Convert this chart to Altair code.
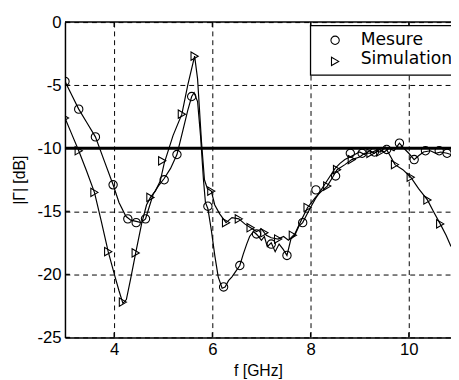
import altair as alt
import pandas as pd

series_names = ["Mesure", "Simulation"]

# Measured curve (line)
mes_f = [3.00, 3.14, 3.28, 3.45, 3.62, 3.80, 3.98, 4.10, 4.24, 4.34, 4.45, 4.55, 4.64, 4.72,
         4.80, 4.90, 5.02, 5.15, 5.28, 5.40, 5.50, 5.58, 5.63, 5.70, 5.76, 5.82, 5.86, 5.91,
         5.98, 6.05, 6.12, 6.20, 6.26, 6.33, 6.40, 6.47, 6.56, 6.63, 6.70, 6.76, 6.84, 6.92,
         7.00, 7.06, 7.12, 7.20, 7.28, 7.36, 7.44, 7.52, 7.60, 7.68, 7.76, 7.84, 7.92, 8.00,
         8.10, 8.20, 8.30, 8.40, 8.50, 8.60, 8.70, 8.80, 8.90, 9.00, 9.10, 9.20, 9.30, 9.40,
         9.50, 9.60, 9.70, 9.81, 9.90, 10.00, 10.11, 10.20, 10.30, 10.44, 10.55, 10.65, 10.78, 10.86]
mes_db = [-4.7, -5.8, -6.9, -8.0, -9.1, -11.0, -12.9, -14.3, -15.4, -15.7, -15.8, -15.9, -15.6, -14.6,
          -13.6, -13.0, -12.4, -11.6, -10.5, -8.6, -7.0, -5.9, -5.6, -6.3, -9.0, -12.5, -14.3, -14.8,
          -16.5, -18.5, -20.2, -21.1, -21.0, -20.5, -20.2, -19.8, -19.3, -18.4, -17.6, -17.0, -16.6, -16.9,
          -17.3, -17.0, -17.8, -17.5, -18.2, -17.6, -18.0, -18.5, -17.2, -16.9, -16.2, -15.9, -15.3, -14.7,
          -14.0, -13.4, -12.8, -12.2, -11.6, -11.2, -10.9, -10.7, -10.5, -10.3, -10.5, -10.2, -10.4, -10.1,
          -10.3, -10.0, -10.2, -9.6, -10.0, -10.4, -10.9, -10.6, -10.3, -10.2, -10.4, -10.3, -10.4, -10.5]

# Simulated curve (line)
sim_f = [3.00, 3.14, 3.28, 3.44, 3.60, 3.74, 3.88, 4.02, 4.10, 4.18, 4.25, 4.34, 4.44, 4.56,
         4.66, 4.74, 4.84, 4.94, 5.02, 5.20, 5.38, 5.50, 5.64, 5.70, 5.78, 5.84, 5.90, 5.98,
         6.05, 6.15, 6.28, 6.40, 6.54, 6.66, 6.78, 6.90, 7.00, 7.10, 7.20, 7.34, 7.45, 7.55,
         7.68, 7.80, 7.94, 8.10, 8.20, 8.34, 8.45, 8.54, 8.70, 8.84, 9.00, 9.10, 9.22, 9.32,
         9.42, 9.52, 9.62, 9.72, 9.88, 10.04, 10.20, 10.38, 10.50, 10.64, 10.76, 10.86]
sim_db = [-7.6, -8.9, -10.2, -11.8, -13.5, -15.8, -18.2, -20.2, -21.3, -22.3, -22.0, -20.3, -18.3, -16.0,
          -14.5, -13.9, -13.4, -12.6, -11.2, -9.0, -7.3, -5.0, -2.7, -4.5, -9.5, -12.5, -13.2, -13.4,
          -14.5, -15.2, -15.9, -15.5, -15.6, -16.0, -16.3, -16.6, -16.4, -16.9, -17.1, -17.2, -17.0, -17.3,
          -16.8, -15.8, -14.7, -13.9, -13.5, -13.0, -12.3, -11.7, -11.3, -10.9, -10.7, -10.4, -10.4, -10.2,
          -10.3, -9.9, -10.6, -11.3, -11.7, -12.3, -13.2, -14.1, -15.0, -16.0, -16.9, -17.8]

# Marker positions
mes_mk_f = [3.00, 3.28, 3.62, 3.98, 4.28, 4.45, 4.64, 5.02, 5.28, 5.58, 5.91, 6.23, 6.56, 6.90,
            7.20, 7.52, 7.84, 8.11, 8.51, 8.81, 9.05, 9.30, 9.55, 9.81, 10.11, 10.34, 10.62, 10.78]
mes_mk_db = [-4.7, -6.9, -9.1, -12.9, -15.6, -15.9, -15.6, -12.5, -10.5, -5.9, -14.6, -21.0, -19.3, -16.8,
             -17.6, -18.5, -15.9, -13.3, -12.2, -10.4, -10.4, -10.3, -10.1, -9.6, -10.9, -10.2, -10.2, -10.4]
sim_mk_f = [3.00, 3.28, 3.60, 3.88, 4.18, 4.44, 4.74, 4.98, 5.38, 5.64, 5.98, 6.28, 6.54, 6.78,
            7.06, 7.34, 7.64, 7.94, 8.34, 8.54, 8.84, 9.22, 9.42, 9.72, 10.04, 10.38, 10.64]
sim_mk_db = [-7.6, -10.2, -13.5, -18.2, -22.2, -18.3, -13.9, -11.0, -7.3, -2.7, -13.4, -15.9, -15.6, -16.3,
             -16.7, -17.2, -16.9, -14.7, -13.0, -11.7, -10.9, -10.4, -10.3, -11.3, -12.3, -14.1, -16.0]

x_ticks = [4, 6, 8, 10]
y_ticks = [0, -5, -10, -15, -20, -25]
ref_level = [-10]
top_edge = [0]
x_domain = [3, 10.86]
y_domain = [-25, 0]

x_title = "f [GHz]"
y_title = "|Γ| [dB]"

W, H = 393, 321

lines_df = pd.concat([
    pd.DataFrame({"f": mes_f, "dB": mes_db, "series": series_names[0]}),
    pd.DataFrame({"f": sim_f, "dB": sim_db, "series": series_names[1]}),
])
markers_df = pd.concat([
    pd.DataFrame({"f": mes_mk_f, "dB": mes_mk_db, "series": series_names[0]}),
    pd.DataFrame({"f": sim_mk_f, "dB": sim_mk_db, "series": series_names[1]}),
])

LBL_FONT = "Liberation Sans"
xs = alt.Scale(domain=x_domain, nice=False, zero=False)
ys = alt.Scale(domain=y_domain, nice=False, zero=False)

common_axis = dict(
    grid=True, gridDash=[5, 4], gridColor="black", gridWidth=1, gridOpacity=1,
    domainColor="black", domainWidth=1.5, ticks=False, tickSize=0,
    labelFont=LBL_FONT, labelFontSize=17, labelColor="black", labelFlush=False,
    titleFont=LBL_FONT, titleFontSize=16, titleFontWeight="normal", titleColor="black",
    labelExpr="'' + datum.value",
)
xaxis = alt.Axis(values=x_ticks, title=x_title, labelPadding=4, titlePadding=6, **common_axis)
yaxis = alt.Axis(values=y_ticks, title=y_title, labelPadding=4, titlePadding=10, **common_axis)

X = alt.X("f:Q", scale=xs, axis=xaxis)
Y = alt.Y("dB:Q", scale=ys, axis=yaxis)

ref_rule = alt.Chart(pd.DataFrame({"dB": ref_level})).mark_rule(
    color="black", strokeWidth=3).encode(y=Y)

top_rule = alt.Chart(pd.DataFrame({"dB": top_edge})).mark_rule(
    color="black", strokeWidth=1.5).encode(y=Y)

lines = alt.Chart(lines_df).mark_line(color="black", strokeWidth=1.2, clip=True).encode(
    x=X, y=Y, detail="series:N")

shape_scale = alt.Scale(domain=series_names, range=["circle", "triangle-right"])
markers = alt.Chart(markers_df).mark_point(
    filled=False, color="black", size=72, strokeWidth=1.1, opacity=1, clip=True).encode(
    x=X, y=Y, shape=alt.Shape("series:N", scale=shape_scale, legend=None))

yticks_in = alt.Chart(pd.DataFrame({"dB": y_ticks})).mark_rule(
    color="black", strokeWidth=1.2).encode(y=Y, x=alt.value(0), x2=alt.value(5))
xticks_bot = alt.Chart(pd.DataFrame({"f": x_ticks})).mark_rule(
    color="black", strokeWidth=1.2).encode(x=X, y=alt.value(H), y2=alt.value(H - 5))
xticks_top = alt.Chart(pd.DataFrame({"f": x_ticks})).mark_rule(
    color="black", strokeWidth=1.2).encode(x=X, y=alt.value(0), y2=alt.value(5))

legend_df = pd.DataFrame({"label": series_names})
legend_box = alt.Chart(legend_df.head(1)).mark_rect(
    fill="white", stroke="black", strokeWidth=1.3).encode(
    x=alt.value(250), x2=alt.value(440), y=alt.value(3.5), y2=alt.value(54))

leg_sym_y = [18.5, 40]
leg_shapes = ["circle", "triangle-right"]
legend_layers = [legend_box]
for i, name in enumerate(series_names):
    row = pd.DataFrame({"label": [name]})
    legend_layers.append(
        alt.Chart(row).mark_point(shape=leg_shapes[i], filled=False, color="black",
                                  size=72, strokeWidth=1.1, opacity=1).encode(
            x=alt.value(275), y=alt.value(leg_sym_y[i])))
    legend_layers.append(
        alt.Chart(row).mark_text(font="DejaVu Sans", fontSize=17.5, align="left",
                                 baseline="middle", color="black").encode(
            text="label:N", x=alt.value(301), y=alt.value(leg_sym_y[i] - 0.5 - i * 1.5)))

chart = alt.layer(
    ref_rule, lines, markers, yticks_in, xticks_bot, xticks_top, top_rule, *legend_layers
).properties(
    width=W, height=H,
    autosize=alt.AutoSizeParams(type="none"),
    padding={"left": 58, "top": 11, "right": 0, "bottom": 40},
).configure_view(stroke="transparent")

chart.save("out.html", embed_options={"renderer": "svg", "actions": False})
